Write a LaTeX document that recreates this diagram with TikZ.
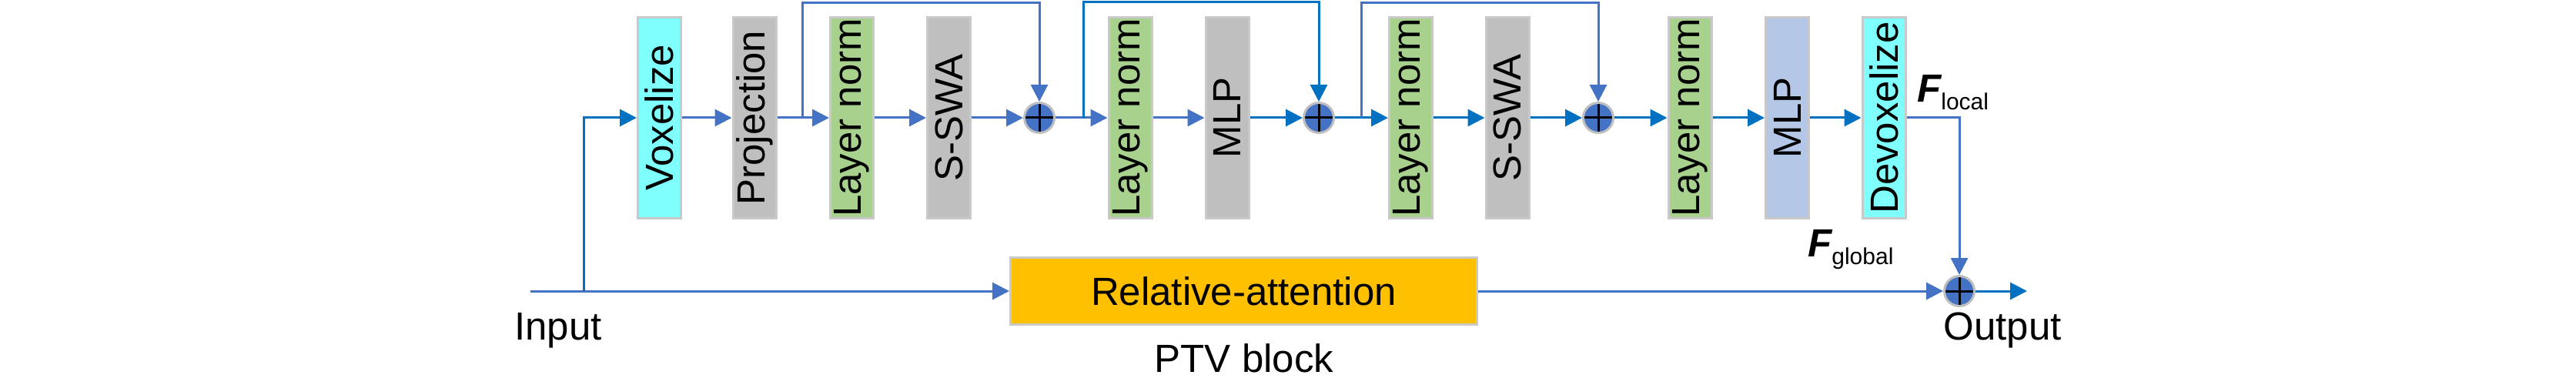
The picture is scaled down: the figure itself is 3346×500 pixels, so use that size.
\documentclass[tikz,border=0pt]{standalone}
\usepackage{fontspec}
\setmainfont{Liberation Sans}
\usetikzlibrary{arrows.meta}
\definecolor{lblue}{HTML}{4472C4}
\definecolor{dblue}{HTML}{0070C0}
\definecolor{bord}{HTML}{C9C9C9}
\definecolor{cbord}{HTML}{BFBFBF}
\definecolor{cyanf}{HTML}{80FFFF}
\definecolor{grayf}{HTML}{BFBFBF}
\definecolor{greenf}{HTML}{A9D18E}
\definecolor{bluef}{HTML}{B4C7E7}
\definecolor{yellowf}{HTML}{FFC000}
\tikzset{
  vbox/.style={draw=bord, line width=3pt, minimum width=56pt, minimum height=261pt, inner sep=0pt},
  plusnode/.style={circle, fill=lblue, draw=cbord, line width=3pt, minimum size=39pt, inner sep=0pt,
    path picture={\draw[black, line width=3pt] (path picture bounding box.north) -- (path picture bounding box.south)
      (path picture bounding box.west) -- (path picture bounding box.east);}},
  conn/.style={draw=lblue, line width=3pt, -{Triangle[length=22pt,width=22pt]}},
  connd/.style={draw=dblue, line width=3pt, -{Triangle[length=22pt,width=22pt]}},
  plainline/.style={draw=lblue, line width=3pt},
  lbl/.style={inner sep=0pt, font=\fontsize{51}{60}\selectfont},
  sublbl/.style={inner sep=0pt, anchor=base west, font=\fontsize{51}{60}\selectfont}
}
\newcommand{\fsub}[1]{{\bfseries\itshape F}\raisebox{-10pt}{\fontsize{30}{34}\selectfont #1}}
\begin{document}
\begin{tikzpicture}[x=1pt,y=1pt, font=\fontsize{51}{60}\selectfont]
\useasboundingbox (0,0) rectangle (3346,-500);
% boxes
\node[vbox, fill=cyanf]  (vox)   at (856.5,-153) {\rotatebox{90}{Voxelize}};
\node[vbox, fill=grayf]  (proj)  at (980,-153)   {\rotatebox{90}{Projection}};
\node[vbox, fill=greenf] (ln1)   at (1106.5,-153){\rotatebox{90}{Layer norm}};
\node[vbox, fill=grayf]  (sswa1) at (1232.5,-153){\rotatebox{90}{S-SWA}};
\node[plusnode]          (p1)    at (1350,-153)  {};
\node[vbox, fill=greenf] (ln2)   at (1468,-153)  {\rotatebox{90}{Layer norm}};
\node[vbox, fill=grayf]  (mlp1)  at (1594,-153)  {\rotatebox{90}{MLP}};
\node[plusnode]          (p2)    at (1713,-153)  {};
\node[vbox, fill=greenf] (ln3)   at (1832.5,-153){\rotatebox{90}{Layer norm}};
\node[vbox, fill=grayf]  (sswa2) at (1958,-153)  {\rotatebox{90}{S-SWA}};
\node[plusnode]          (p3)    at (2076,-153)  {};
\node[vbox, fill=greenf] (ln4)   at (2195,-153)  {\rotatebox{90}{Layer norm}};
\node[vbox, fill=bluef]  (mlp2)  at (2321.5,-153){\rotatebox{90}{MLP}};
\node[vbox, fill=cyanf]  (devox) at (2447,-153)  {\rotatebox{90}{Devoxelize}};
\node[plusnode]          (p4)    at (2545,-378)  {};
\node[draw=bord, line width=3pt, fill=yellowf, minimum width=606pt, minimum height=87pt, inner sep=0pt]
   (ra) at (1615.5,-378) {Relative-attention};
% labels
\node[lbl, anchor=base] (inlbl)  at (725,-441)  {Input};
\node[lbl, anchor=base] (outlbl) at (2601,-441) {Output};
\node[lbl, anchor=base] (ptv)    at (1616,-483) {PTV block};
\node[sublbl] (floc) at (2490,-132) {\fsub{local}};
\node[sublbl] (fglob) at (2348,-333) {\fsub{global}};
% coordinates
\coordinate (inp) at (689,-378);
\coordinate (br)  at (758,-378);
\coordinate (s1)  at (1042,-153);
\coordinate (s1t) at (1042,-4);
\coordinate (s2)  at (1407,-153);
\coordinate (s2t) at (1407,-3);
\coordinate (s3)  at (1768,-153);
\coordinate (s3t) at (1768,-4);
\coordinate (outend) at (2633,-378);
% connectors
\draw[plainline] (inp) -- (br);
\draw[conn] (br) -- (ra.west);
\draw[connd] (br) |- (vox.west);
\draw[conn] (vox) -- (proj);
\draw[conn] (proj) -- (ln1);
\draw[conn] (ln1) -- (sswa1);
\draw[conn] (sswa1) -- (p1);
\draw[conn] (s1) -- (s1t) -| (p1);
\draw[conn] (p1) -- (ln2);
\draw[conn] (ln2) -- (mlp1);
\draw[connd] (mlp1) -- (p2);
\draw[connd] (s2) -- (s2t) -| (p2);
\draw[connd] (p2) -- (ln3);
\draw[connd] (ln3) -- (sswa2);
\draw[connd] (sswa2) -- (p3);
\draw[conn] (s3) -- (s3t) -| (p3);
\draw[connd] (p3) -- (ln4);
\draw[connd] (ln4) -- (mlp2);
\draw[connd] (mlp2) -- (devox);
\draw[conn] (devox.east) -| (p4);
\draw[conn] (ra) -- (p4);
\draw[connd] (p4) -- (outend);
\end{tikzpicture}
\end{document}
